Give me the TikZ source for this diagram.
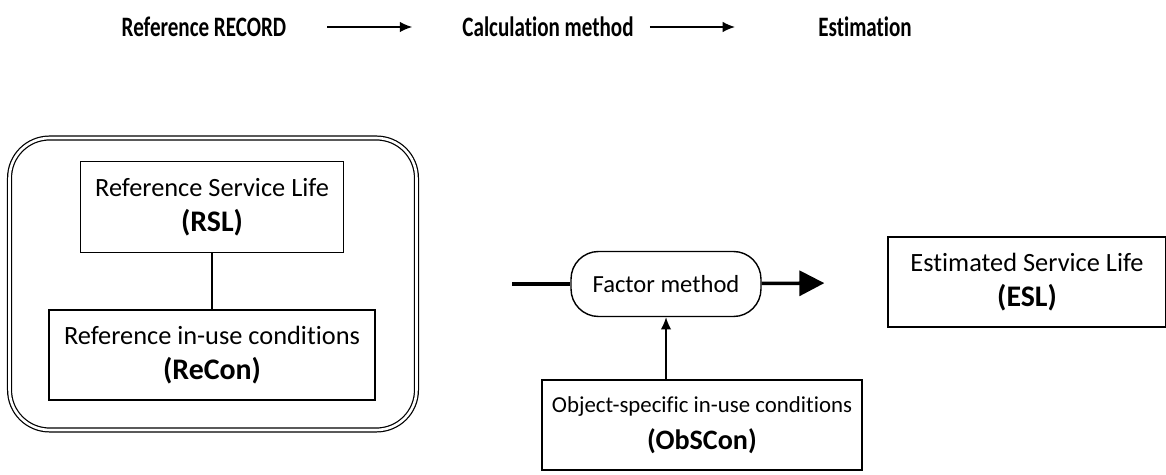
\documentclass[tikz,border=0pt]{standalone}
\usepackage{fontspec}
\setmainfont{Carlito}[Ligatures=NoCommon]
\usetikzlibrary{arrows.meta}
\begin{document}
\begin{tikzpicture}[x=0.02cm,y=-0.02cm,
	head/.style={inner sep=0pt,font=\fontsize{16}{19}\selectfont\bfseries},
	box/.style={draw,line width=0.8pt,align=center,inner sep=0pt,font=\fontsize{15}{20}\selectfont},
	thin arrow/.style={line width=0.8pt,-{Latex[length=7pt,width=6pt]}}]
	\useasboundingbox (0,0) rectangle (1166,475);
	\node[head] (rec) at (204,27) {\scalebox{0.75}[1]{Reference RECORD}};
	\node[head] (calc) at (548,27) {\scalebox{0.75}[1]{Calculation method}};
	\node[head] (est) at (865,27) {\scalebox{0.75}[1]{Estimation}};
	\draw[thin arrow,shorten <=0.81cm,shorten >=1.0cm] (rec) -- (calc);
	\draw[thin arrow,shorten <=0.32cm,shorten >=1.66cm] (calc) -- (est);
	\node[draw,double,line width=0.7pt,double distance=1.5pt,rounded corners=0.8cm,minimum width=8.14cm,minimum height=5.84cm] (record) at (213,284) {};
	\node[box,minimum width=5.26cm,minimum height=1.82cm] (rsl) at (212,207) {Reference Service Life\\\textbf{\fontsize{17}{20}\selectfont(RSL)}};
	\node[box,minimum width=6.52cm,minimum height=1.8cm] (recon) at (212,355) {Reference in-use conditions\\\textbf{\fontsize{17}{20}\selectfont(ReCon)}};
	\draw[line width=1.4pt] (rsl) -- (recon);
	\node[box,rounded corners=0.55cm,minimum width=3.8cm,minimum height=1.3cm,font=\fontsize{14}{16}\selectfont] (factor) at (666,284) {Factor method};
	\coordinate (in) at (512,284);
	\draw[line width=2pt] (in) -- (factor);
	\node[box,minimum width=5.56cm,minimum height=1.8cm] (esl) at (1027,282) {Estimated Service Life\\\textbf{\fontsize{17}{20}\selectfont(ESL)}};
	\draw[line width=2pt,-{Triangle[length=0.5cm,width=0.5cm]},shorten >=1.26cm] (factor) -- (esl);
	\node[box,minimum width=6.4cm,minimum height=1.8cm,font=\fontsize{13}{21}\selectfont] (obs) at (702,425) {Object-specific in-use conditions\\\textbf{\fontsize{16}{21}\selectfont(ObSCon)}};
	\draw[thin arrow] (factor |- obs.north) -- (factor);
\end{tikzpicture}
\end{document}
